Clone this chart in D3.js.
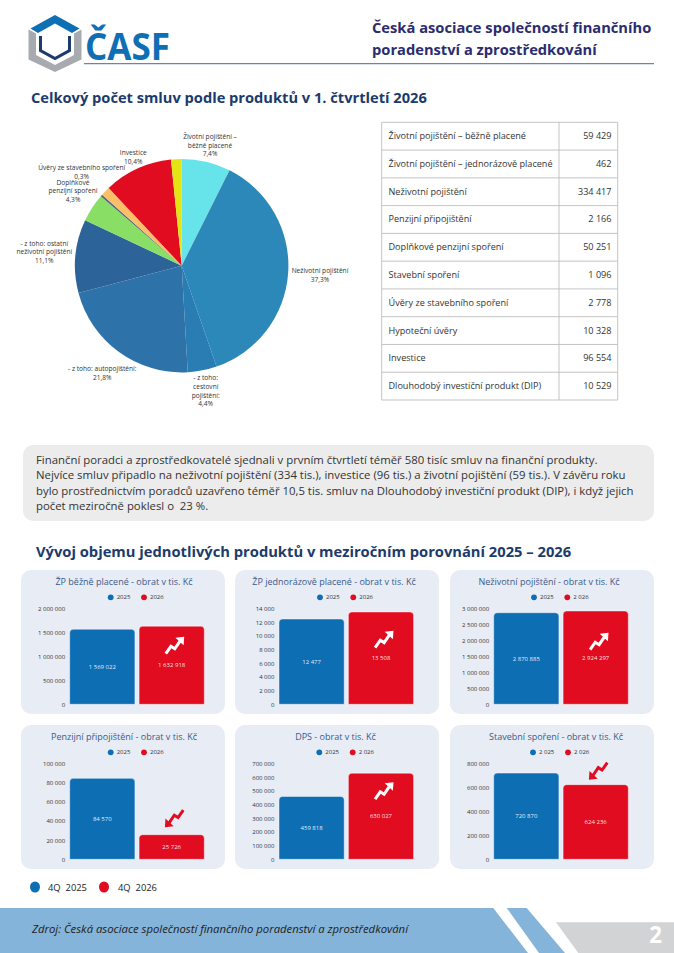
<!DOCTYPE html>
<html lang="cs">
<head>
<meta charset="utf-8">
<title>ČASF</title>
<script src="https://cdn.jsdelivr.net/npm/d3@7/dist/d3.min.js"></script>
<style>
html,body{margin:0;padding:0;background:#fff}
svg{display:block}
text{font-family:"Open Sans",sans-serif;white-space:pre}
</style>
</head>
<body>
<svg id="page" width="674" height="953" viewBox="0 0 674 953"></svg>
<script>
// ---------- data ----------
const pieNames = ["Životní pojištění – běžně placené","Neživotní pojištění","- z toho: cestovní pojištění","- z toho: autopojištění","- z toho: ostatní neživotní pojištění","Doplňkové penzijní spoření","Úvěry ze stavebního spoření","Stavební spoření","Investice","Dlouhodobý investiční produkt"];
const pieValues = [7.4,37.3,4.4,21.8,11.1,4.3,0.3,1.4,10.4,1.6];
const pieLabelLines = [
  ["Životní pojištění –","běžně placené","7,4%"],
  ["Neživotní pojištění","37,3%"],
  ["- z toho:","cestovní","pojištění:","4,4%"],
  ["- z toho: autopojištění:","21,8%"],
  ["- z toho: ostatní","neživotní pojištění","11,1%"],
  ["Doplňkové","penzijní spoření","4,3%"],
  ["Úvěry ze stavebního spoření","0,3%"],
  [],
  ["Investice","10,4%"],
  []
];
const tableNames = ["Životní pojištění – běžně placené","Životní pojištění – jednorázově placené","Neživotní pojištění","Penzijní připojištění","Doplňkové penzijní spoření","Stavební spoření","Úvěry ze stavebního spoření","Hypoteční úvěry","Investice","Dlouhodobý investiční produkt (DIP)"];
const tableValues = [59429,462,334417,2166,50251,1096,2778,10328,96554,10529];
const chartTitles = ["ŽP běžně placené - obrat v tis. Kč","ŽP jednorázově placené - obrat v tis. Kč","Neživotní pojištění - obrat v tis. Kč","Penzijní připojištění - obrat v tis. Kč","DPS - obrat v tis. Kč","Stavební spoření - obrat v tis. Kč"];
const values2025 = [1569022,12477,2870885,84570,459818,720870];
const values2026 = [1632918,13508,2924297,25726,630027,624236];
const axisMax = [2000000,14000,3000000,100000,700000,800000];
const axisStep = [500000,2000,500000,20000,100000,200000];
const legend2025 = ["2025","2025","2025","2025","2025","2 025"];
const legend2026 = ["2026","2026","2 026","2026","2 026","2 026"];
const paragraphLines = [
  "Finanční poradci a zprostředkovatelé sjednali v prvním čtvrtletí téměř 580 tisíc smluv na finanční produkty.",
  "Nejvíce smluv připadlo na neživotní pojištění (334 tis.), investice (96 tis.) a životní pojištění (59 tis.). V závěru roku",
  "bylo prostřednictvím poradců uzavřeno téměř 10,5 tis. smluv na Dlouhodobý investiční produkt (DIP), i když jejich",
  "počet meziročně poklesl o  23 %."
];

// ---------- layout & style ----------
const BLUE="#0D6EB4", RED="#E20C20", NAVY="#1C3B6B", CARD="#E8ECF5";
const pieColors = ["#67E4EA","#2B88B8","#2A7DB3","#2D72A9","#2C6499","#89DF66","#56657c","#FBBF6A",RED,"#E3E316"];
const pieLabelPos = [[210,136.7],[320,270.7],[205.7,378],[102.3,369],[44.3,243.3],[73,182.3],[81.7,167.7],null,[133.3,152.7],null];
const cardX=[21,235,450], cardY=[570,725], cardW=204, cardH=144;
const barOffset=[48.7,44,43.7,48.7,44,43.7];
const titleOffset=[103,99,99,103,100.5,106];
const legendDots=[[89.7,123],[85,118.3],[84,117.3],[89.7,123],[84.3,117.7],[83,118]];
const arrowPos=[[2.7,-19.5],[2.7,-18.5],[3,-16],[3,-16.5],[2.7,-25],[3,-14]]; // offset from the 2026 bar's label / top

const svg=d3.select("#page");
const fmt=d3.formatLocale({decimal:",",thousands:" ",grouping:[3],currency:["","Kč"]}).format(",d");

// ---------- header ----------
const logo=svg.append("g");
logo.append("polygon").attr("points","28.5,29.5 28.5,59.5 55,72 81.5,59.5 81.5,29.5 74,33.5 74,55 55,65 36,55 36,33.5").attr("fill","#A7ABB0");
logo.append("polygon").attr("points","55,15 79.5,28.5 72,33 55,23.5 38,33 30.5,28.5").attr("fill","#0F6FB5");
logo.append("polyline").attr("points","40.5,36 40.5,50.5 55,58.5 69.5,50.5 69.5,36").attr("fill","none").attr("stroke","#1D3A6E").attr("stroke-width",3);
svg.append("text").attr("x",85).attr("y",60).attr("font-size",38).attr("font-weight",700).attr("fill","#0F6FB5").attr("textLength",85).attr("lengthAdjust","spacingAndGlyphs").text("ČASF");
svg.append("line").attr("x1",84).attr("x2",654).attr("y1",63.7).attr("y2",63.7).attr("stroke","#5F88B5").attr("stroke-width",1.2);
svg.append("text").attr("x",372).attr("y",33).attr("font-size",14.7).attr("font-weight",700).attr("fill","#2B2C6E").text("Česká asociace společností finančního");
svg.append("text").attr("x",372).attr("y",54.5).attr("font-size",14.7).attr("font-weight",700).attr("fill","#2B2C6E").text("poradenství a zprostředkování");
svg.append("text").attr("x",31).attr("y",102.5).attr("font-size",14.65).attr("font-weight",700).attr("fill",NAVY).text("Celkový počet smluv podle produktů v 1. čtvrtletí 2026");

// ---------- pie ----------
const pieG=svg.append("g").attr("transform","translate(181.7,265.7)");
const arc=d3.arc().innerRadius(0).outerRadius(106.7);
pieG.selectAll("path").data(d3.pie().sort(null)(pieValues)).join("path")
  .attr("d",arc).attr("fill",(d,i)=>pieColors[i]);
pieLabelLines.forEach((lines,i)=>{
  if(!lines.length) return;
  const t=svg.append("text").attr("text-anchor","middle").attr("font-size",6.6).attr("fill","#333");
  lines.forEach((l,k)=>t.append("tspan").attr("x",pieLabelPos[i][0]).attr("y",pieLabelPos[i][1]+2.3+k*8.7).text(l));
});

// ---------- table ----------
const rowY=d3.scaleLinear().domain([0,tableNames.length]).range([122.3,400]);
const tableG=svg.append("g");
tableNames.forEach((n,i)=>{
  tableG.append("text").attr("x",388.5).attr("y",(rowY(i)+rowY(i+1))/2+3).attr("font-size",9.1).attr("fill","#333").text(n);
  tableG.append("text").attr("x",611.5).attr("y",(rowY(i)+rowY(i+1))/2+3).attr("text-anchor","end").attr("font-size",9.1).attr("fill","#333").text(fmt(tableValues[i]));
});
d3.range(tableNames.length+1).forEach(i=>tableG.append("line").attr("x1",381.7).attr("x2",617.7).attr("y1",rowY(i)).attr("y2",rowY(i)).attr("stroke","#bdbdbd").attr("stroke-width",.9));
[381.7,559,617.7].forEach(x=>tableG.append("line").attr("x1",x).attr("x2",x).attr("y1",122.3).attr("y2",400).attr("stroke","#bdbdbd").attr("stroke-width",.9));

// ---------- paragraph ----------
svg.append("rect").attr("x",23).attr("y",445).attr("width",631).attr("height",76).attr("rx",10).attr("fill","#ECECEC");
paragraphLines.forEach((l,i)=>svg.append("text").attr("x",36).attr("y",464+i*15.3).attr("font-size",11.36).attr("fill","#333").text(l));
svg.append("text").attr("x",36).attr("y",556.5).attr("font-size",14.72).attr("font-weight",700).attr("fill",NAVY).text("Vývoj objemu jednotlivých produktů v meziročním porovnání 2025 – 2026");

// ---------- small multiples ----------
function roundedTop(x,y,w,y0,r){
  return `M${x},${y0}V${y+r}Q${x},${y} ${x+r},${y}H${x+w-r}Q${x+w},${y} ${x+w},${y+r}V${y0}Z`;
}
function zigzag(g,color,dir,cx,cy){
  const a=g.append("g").attr("transform",`translate(${cx},${cy}) rotate(${dir>0?0:180})`);
  a.append("polyline").attr("points","-8.6,8 -3.4,0.6 0.4,3 5.6,-4.6").attr("fill","none").attr("stroke",color).attr("stroke-width",3);
  a.append("polygon").attr("points","1,-8 9.8,-9 9.2,-0.4").attr("fill",color);
}
chartTitles.forEach((title,i)=>{
  const cx=cardX[i%3], cy=cardY[Math.floor(i/3)];
  const g=svg.append("g").attr("transform",`translate(${cx},${cy})`);
  g.append("rect").attr("width",cardW).attr("height",cardH).attr("rx",10).attr("fill",CARD);
  g.append("text").attr("x",titleOffset[i]).attr("y",15.3).attr("text-anchor","middle").attr("font-size",9).attr("fill","#3A5A8C").text(title);
  // legend
  const d=legendDots[i];
  [[d[0],legend2025[i],BLUE],[d[1],legend2026[i],RED]].forEach(([x,lab,c])=>{
    g.append("circle").attr("cx",x).attr("cy",27.3).attr("r",2.9).attr("fill",c);
    g.append("text").attr("x",x+6).attr("y",29.4).attr("font-size",6).attr("fill","#333").text(lab);
  });
  // scales
  const y=d3.scaleLinear().domain([0,axisMax[i]]).range([134.3,38.6]);
  const x=d3.scaleBand().domain(["2025","2026"]).range([barOffset[i],barOffset[i]+134.6]).paddingInner(.06).paddingOuter(0);
  const ax=g.append("g").attr("transform",`translate(${barOffset[i]},0)`)
    .call(d3.axisLeft(y).tickValues(d3.range(0,axisMax[i]+1,axisStep[i])).tickSize(0).tickPadding(4.6).tickFormat(fmt));
  ax.select(".domain").remove();
  ax.selectAll("text").attr("font-size",6).attr("fill","#333").style("font-family",'"Open Sans",sans-serif');
  // bars
  [["2025",values2025[i],BLUE],["2026",values2026[i],RED]].forEach(([k,v,c])=>{
    g.append("path").attr("d",roundedTop(x(k),y(v),x.bandwidth(),y(0),3.5)).attr("fill",c).attr("stroke","#fff").attr("stroke-opacity",.75).attr("stroke-width",.6);
    g.append("text").attr("x",x(k)+x.bandwidth()/2).attr("y",(y(v)+y(0))/2+2).attr("text-anchor","middle").attr("font-size",6).attr("fill","#fff").attr("fill-opacity",.9).text(fmt(v));
  });
  // trend arrow
  const up=values2026[i]>=values2025[i];
  const ax2=x("2026")+x.bandwidth()/2+arrowPos[i][0];
  const ay=up? (y(values2026[i])+y(0))/2+arrowPos[i][1] : y(values2026[i])+arrowPos[i][1];
  zigzag(g,up?"#fff":RED,up?1:-1,ax2,ay);
});

// ---------- bottom legend ----------
[[35,48,"4Q  2025",BLUE],[104,118,"4Q  2026",RED]].forEach(([c,t,lab,col])=>{
  svg.append("ellipse").attr("cx",c).attr("cy",887).attr("rx",5).attr("ry",5.5).attr("fill",col);
  svg.append("text").attr("x",t).attr("y",891).attr("font-size",9.4).attr("fill","#222").text(lab);
});

// ---------- footer ----------
svg.append("polygon").attr("points","0,908 493.3,908 528,953 0,953").attr("fill","#85B4DA");
svg.append("polygon").attr("points","506.7,908 526.7,908 565,953 539,953").attr("fill","#85B4DA");
svg.append("polygon").attr("points","556,922.3 674,922.3 674,953 578.3,953").attr("fill","#D2D3D5");
svg.append("text").attr("x",32).attr("y",933).attr("font-size",11.3).attr("font-style","italic").attr("fill","#1d1d1d").text("Zdroj: Česká asociace společností finančního poradenství a zprostředkování");
svg.append("text").attr("x",655.7).attr("y",943.3).attr("text-anchor","middle").attr("font-size",22.4).attr("font-weight",700).attr("fill","#fff").text("2");
</script>
</body>
</html>
